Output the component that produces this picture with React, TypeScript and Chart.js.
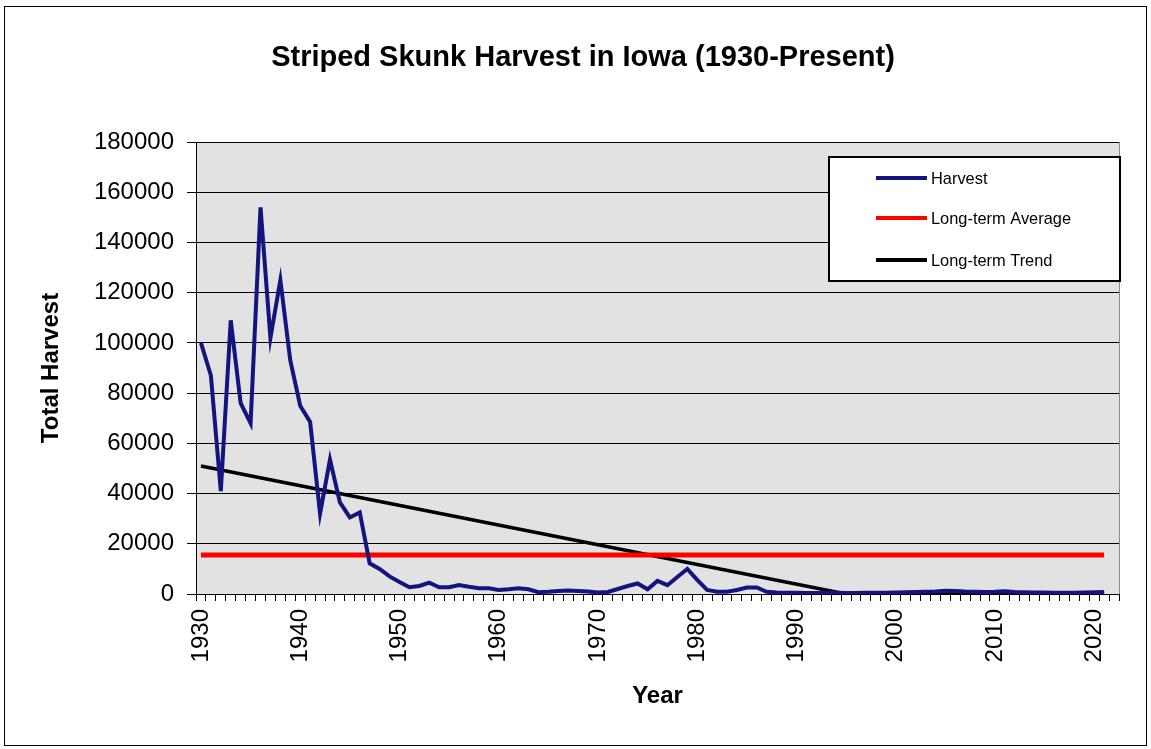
import React, { useEffect, useRef } from 'react';
import { Chart, registerables } from 'chart.js';

Chart.register(...registerables);

const FONT = "'Liberation Sans', Arial, sans-serif";

const chartTitle = 'Striped Skunk Harvest in Iowa (1930-Present)';

const years: number[] = [
  1930, 1931, 1932, 1933, 1934, 1935, 1936, 1937, 1938, 1939,
  1940, 1941, 1942, 1943, 1944, 1945, 1946, 1947, 1948, 1949,
  1950, 1951, 1952, 1953, 1954, 1955, 1956, 1957, 1958, 1959,
  1960, 1961, 1962, 1963, 1964, 1965, 1966, 1967, 1968, 1969,
  1970, 1971, 1972, 1973, 1974, 1975, 1976, 1977, 1978, 1979,
  1980, 1981, 1982, 1983, 1984, 1985, 1986, 1987, 1988, 1989,
  1990, 1991, 1992, 1993, 1994, 1995, 1996, 1997, 1998, 1999,
  2000, 2001, 2002, 2003, 2004, 2005, 2006, 2007, 2008, 2009,
  2010, 2011, 2012, 2013, 2014, 2015, 2016, 2017, 2018, 2019,
  2020, 2021, 2022,
];

const harvest: number[] = [
  100000, 87000, 41000, 109000, 76000, 68000, 154000, 102000, 125000, 93000,
  75000, 68500, 32000, 53500, 36500, 30500, 32500, 12200, 10000, 7000,
  4800, 2700, 3200, 4500, 2700, 2700, 3600, 2900, 2300, 2300,
  1600, 1900, 2300, 1900, 700, 900, 1200, 1400, 1200, 1000,
  600, 800, 2000, 3200, 4200, 1900, 5200, 3500, 6800, 10000,
  5600, 1600, 900, 900, 1600, 2600, 2600, 900, 600, 500,
  500, 400, 400, 500, 500, 400, 400, 500, 500, 500,
  600, 700, 800, 900, 1000, 1300, 1200, 1000, 900, 800,
  900, 1100, 800, 700, 600, 600, 500, 500, 500, 600,
  700, 800,
];

const averageYears: string[] = ['1930', '2021'];
const averageValues: number[] = [15500, 15500];

const trendYears: string[] = ['1930', '1995', '2021'];
const trendValues: number[] = [51000, 0, 0];

const yTicks = { min: 0, max: 180000, step: 20000 };

const bgPlugin = {
  id: 'bgPlugin',
  beforeDraw(chart: any) {
    const { ctx, chartArea, width, height } = chart;
    ctx.save();
    ctx.fillStyle = '#ffffff';
    ctx.fillRect(0, 0, width, height);
    ctx.strokeStyle = '#000000';
    ctx.lineWidth = 1;
    ctx.strokeRect(4.5, 6.5, 1142, 739);
    ctx.fillStyle = '#e2e2e2';
    ctx.fillRect(chartArea.left, chartArea.top, chartArea.right - chartArea.left, chartArea.bottom - chartArea.top);
    ctx.strokeStyle = '#8a8a8a';
    ctx.beginPath();
    ctx.moveTo(chartArea.right + 0.5, chartArea.top);
    ctx.lineTo(chartArea.right + 0.5, chartArea.bottom);
    ctx.stroke();
    ctx.restore();
  },
};

const titlePlugin = {
  id: 'offsetTitle',
  afterDraw(chart: any) {
    const { ctx } = chart;
    ctx.save();
    ctx.fillStyle = '#000000';
    ctx.font = `bold 29px ${FONT}`;
    ctx.textAlign = 'center';
    ctx.textBaseline = 'alphabetic';
    ctx.fillText(chartTitle, 583, 66);
    ctx.restore();
  },
};

const legendPlugin = {
  id: 'boxLegend',
  afterDraw(chart: any) {
    const { ctx, chartArea } = chart;
    const right = chartArea.right + 1;
    const left = right - 291;
    const top = chartArea.top + 15;
    const h = 124;
    ctx.save();
    ctx.fillStyle = '#ffffff';
    ctx.fillRect(left, top, right - left, h);
    ctx.strokeStyle = '#000000';
    ctx.lineWidth = 2;
    ctx.strokeRect(left, top, right - left, h);
    const rows = [21, 61, 103];
    chart.data.datasets.forEach((ds: any, i: number) => {
      const y = top + rows[i];
      ctx.strokeStyle = ds.borderColor;
      ctx.lineWidth = 4;
      ctx.beginPath();
      ctx.moveTo(left + 47, y);
      ctx.lineTo(left + 98, y);
      ctx.stroke();
      ctx.fillStyle = '#000000';
      ctx.font = `16.4px ${FONT}`;
      ctx.textBaseline = 'middle';
      ctx.textAlign = 'left';
      ctx.fillText(ds.label, left + 102, y + 1);
    });
    ctx.restore();
  },
};

export default function App() {
  const ref = useRef<HTMLCanvasElement | null>(null);

  useEffect(() => {
    if (!ref.current) return;
    const chart = new Chart(ref.current, {
      type: 'line',
      data: {
        labels: years.map(String),
        datasets: [
          {
            label: 'Harvest',
            data: harvest,
            borderColor: '#14147f',
            borderWidth: 4,
            pointRadius: 0,
            tension: 0,
          },
          {
            label: 'Long-term Average',
            data: averageYears.map((x, i) => ({ x, y: averageValues[i] })),
            borderColor: '#ff0000',
            borderWidth: 5,
            pointRadius: 0,
          },
          {
            label: 'Long-term Trend',
            data: trendYears.map((x, i) => ({ x, y: trendValues[i] })),
            borderColor: '#000000',
            borderWidth: 3.5,
            pointRadius: 0,
          },
        ] as any,
      },
      options: {
        responsive: false,
        animation: false,
        layout: { padding: { left: 0, right: 30, top: 142, bottom: 0 } },
        plugins: {
          legend: { display: false },
          tooltip: { enabled: false },
          title: { display: false },
        },
        scales: {
          x: {
            type: 'category',
            offset: true,
            grid: {
              display: true,
              drawOnChartArea: false,
              drawTicks: true,
              tickLength: 7,
              color: '#000000',
              offset: true,
            },
            border: { display: true, color: '#000000', width: 1 },
            ticks: {
              autoSkip: false,
              maxRotation: 90,
              minRotation: 90,
              padding: 8,
              color: '#000000',
              font: { family: FONT, size: 24 },
              callback: (_v: any, i: number) => (years[i] % 10 === 0 ? String(years[i]) : ''),
            },
            title: {
              display: true,
              text: 'Year',
              color: '#000000',
              font: { family: FONT, size: 24, weight: 'bold' },
              padding: { top: 0, bottom: 38 },
            },
            afterFit: (scale: any) => {
              scale.height = 155;
            },
          },
          y: {
            min: yTicks.min,
            max: yTicks.max,
            grid: {
              color: '#000000',
              lineWidth: 1,
              drawTicks: true,
              tickLength: 9,
            },
            border: { display: true, color: '#000000', width: 1 },
            ticks: {
              stepSize: yTicks.step,
              padding: 13,
              color: '#000000',
              font: { family: FONT, size: 24 },
              callback: (v: any) => String(v),
            },
            title: {
              display: true,
              text: 'Total Harvest',
              color: '#000000',
              font: { family: FONT, size: 24, weight: 'bold' },
              padding: { top: 37, bottom: 0 },
            },
            afterFit: (scale: any) => {
              scale.width = 196;
            },
          },
        },
      } as any,
      plugins: [bgPlugin, titlePlugin, legendPlugin],
    });
    return () => chart.destroy();
  }, []);

  return (
    <div style={{ position: 'absolute', left: 0, top: 0, width: 1151, height: 749, background: '#ffffff' }}>
      <canvas ref={ref} width={1151} height={749} style={{ display: 'block', width: 1151, height: 749 }} />
    </div>
  );
}
